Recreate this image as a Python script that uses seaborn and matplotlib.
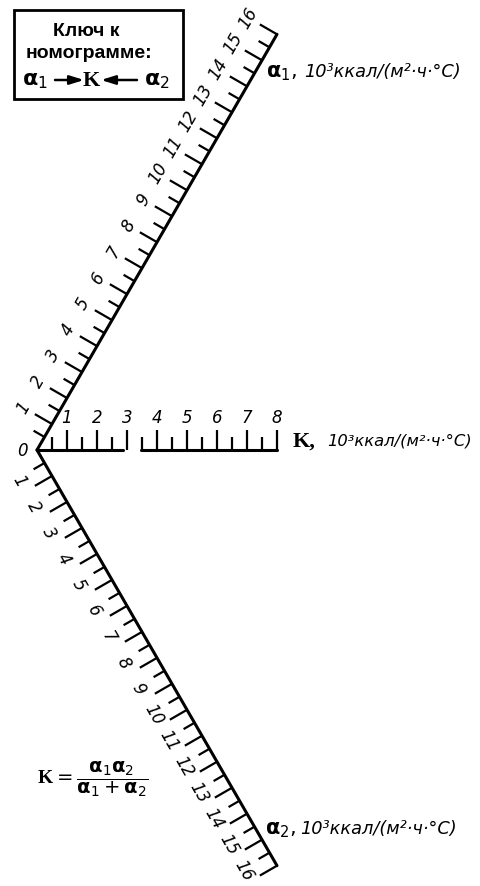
import numpy as np
import pandas as pd
import matplotlib
matplotlib.use("Agg")
import matplotlib.pyplot as plt
import seaborn as sns
from matplotlib.patches import Rectangle

# ---- scale values -------------------------------------------------------
alpha1_labels = list(range(1, 17))      # α1 scale, 10^3 kcal/(m²·h·°C)
alpha2_labels = list(range(1, 17))      # α2 scale
k_labels = list(range(1, 9))            # K scale
alpha_max = 16
k_max = 8
tick_step = 0.5
k_break = (2.87, 3.45)                  # the printed K line is interrupted here

unit_text = "10³ккал/(м²·ч·°С)"
key_title = ["Ключ к", "номограмме:"]
formula = r"$\mathbf{K}=\dfrac{\alpha_1\alpha_2}{\alpha_1+\alpha_2}$"

# ---- style --------------------------------------------------------------
sns.set_theme(style="white")
plt.rcParams["font.family"] = ["DejaVu Sans"]
plt.rcParams["text.color"] = "black"
plt.rcParams["mathtext.fontset"] = "custom"
plt.rcParams["mathtext.rm"] = "DejaVu Sans"
plt.rcParams["mathtext.it"] = "DejaVu Sans:bold"
plt.rcParams["mathtext.bf"] = "Liberation Serif:bold"

W, H, DPI = 480, 886, 100
PX = 30.0                 # pixels per scale unit
ORIGIN = (37, 450)        # pixel position of the common zero

fig = plt.figure(figsize=(W / DPI, H / DPI), dpi=DPI)
fig.patch.set_facecolor("white")
ax = fig.add_axes([0, 0, 1, 1])


def fpos(x, y):
    """pixel position -> figure fraction"""
    return x / W, 1 - y / H


# ---- scale directions ----------------------------------------------------
ang = np.deg2rad(60)
u1 = np.array([np.cos(ang), np.sin(ang)])      # α1, up-right
u2 = np.array([np.cos(ang), -np.sin(ang)])     # α2, down-right
uk = np.array([1.0, 0.0])                      # K, horizontal
n1 = np.array([-np.sin(ang), np.cos(ang)])     # tick side of α1
n2 = np.array([-np.sin(ang), -np.cos(ang)])    # tick side of α2
nk = np.array([0.0, 1.0])                      # tick side of K

# ---- scale lines --------------------------------------------------------
rows = []
for name, u, spans in [("a1", u1, [(0, alpha_max)]),
                       ("a2", u2, [(0, alpha_max)]),
                       ("k", uk, [(0, k_break[0]), (k_break[1], k_max)])]:
    for i, (a, b) in enumerate(spans):
        for v in (a, b):
            p = v * u
            rows.append(dict(seg=f"{name}{i}", x=p[0], y=p[1]))
lines = pd.DataFrame(rows)
sns.lineplot(data=lines, x="x", y="y", units="seg", estimator=None, sort=False,
             color="black", lw=2.2, ax=ax, legend=False)


def draw_ticks(u, n, vmax, major_len, minor_len):
    for v in np.arange(tick_step, vmax + 1e-9, tick_step):
        length = major_len if float(v).is_integer() else minor_len
        p = v * u
        q = p + length * n
        ax.plot([p[0], q[0]], [p[1], q[1]], color="black", lw=1.6,
                solid_capstyle="butt")


draw_ticks(u1, n1, alpha_max, 0.66, 0.42)
draw_ticks(u2, n2, alpha_max, 0.66, 0.42)
draw_ticks(uk, nk, k_max, 0.68, 0.42)

# ---- scale numbers -----------------------------------------------------
num_kw = dict(ha="center", va="center", fontsize=12, style="italic",
              rotation_mode="anchor", color="black")
for v in alpha1_labels:
    p = v * u1 + 1.1 * n1
    ax.text(p[0], p[1], str(v), rotation=60, **num_kw)
for v in alpha2_labels:
    p = v * u2 + 1.05 * n2 - 0.4 * u2
    ax.text(p[0], p[1], str(v), rotation=-60, **num_kw)
for v in k_labels:
    p = v * uk + 1.07 * nk
    ax.text(p[0], p[1], str(v), **num_kw)
ax.text(-0.5, -0.05, "0", **num_kw)

ax.set_xlim(-ORIGIN[0] / PX, (W - ORIGIN[0]) / PX)
ax.set_ylim(-(H - ORIGIN[1]) / PX, ORIGIN[1] / PX)
ax.set_axis_off()

# ---- scale titles -------------------------------------------------------
unit_kw = dict(ha="left", va="center", fontsize=12.8, style="italic")
fig.text(*fpos(266, 73), r"$\alpha_1$,", ha="left", va="center", fontsize=15)
fig.text(*fpos(304, 72), unit_text, **unit_kw)
fig.text(*fpos(265, 830), r"$\alpha_2$,", ha="left", va="center", fontsize=15)
fig.text(*fpos(300, 829), unit_text, **unit_kw)
fig.text(*fpos(293, 442), "K,", ha="left", va="center", fontsize=16,
         family="Liberation Serif", weight="bold")
fig.text(*fpos(327, 441), unit_text, ha="left", va="center", fontsize=11.8,
         style="italic")

# ---- key box ------------------------------------------------------------
x0, y0 = fpos(14, 99)
x1, y1 = fpos(183, 10)
fig.patches.append(Rectangle((x0, y0), x1 - x0, y1 - y0, fill=False,
                             lw=2, edgecolor="black",
                             transform=fig.transFigure))
fig.text(*fpos(86, 31), key_title[0], ha="center", va="center", fontsize=14,
         family="Liberation Sans", weight="bold")
fig.text(*fpos(89, 53), key_title[1], ha="center", va="center", fontsize=14,
         family="Liberation Sans", weight="bold")
fig.text(*fpos(35, 81), r"$\alpha_1$", ha="center", va="center", fontsize=16)
fig.text(*fpos(92, 80), r"$\mathbf{K}$", ha="center", va="center", fontsize=16)
fig.text(*fpos(157, 81), r"$\alpha_2$", ha="center", va="center", fontsize=16)
arrow_kw = dict(arrowstyle="-|>,head_length=0.7,head_width=0.22",
                lw=1.8, color="black", mutation_scale=12, shrinkA=0, shrinkB=0)
ax.annotate("", xy=fpos(84, 80), xytext=fpos(55, 80), xycoords="figure fraction",
            textcoords="figure fraction", arrowprops=arrow_kw)
ax.annotate("", xy=fpos(101, 80), xytext=fpos(137, 80), xycoords="figure fraction",
            textcoords="figure fraction", arrowprops=arrow_kw)

# ---- formula ------------------------------------------------------------
fig.text(*fpos(37, 779), formula, ha="left", va="center", fontsize=14)

fig.savefig("out.png", dpi=DPI, facecolor="white")
